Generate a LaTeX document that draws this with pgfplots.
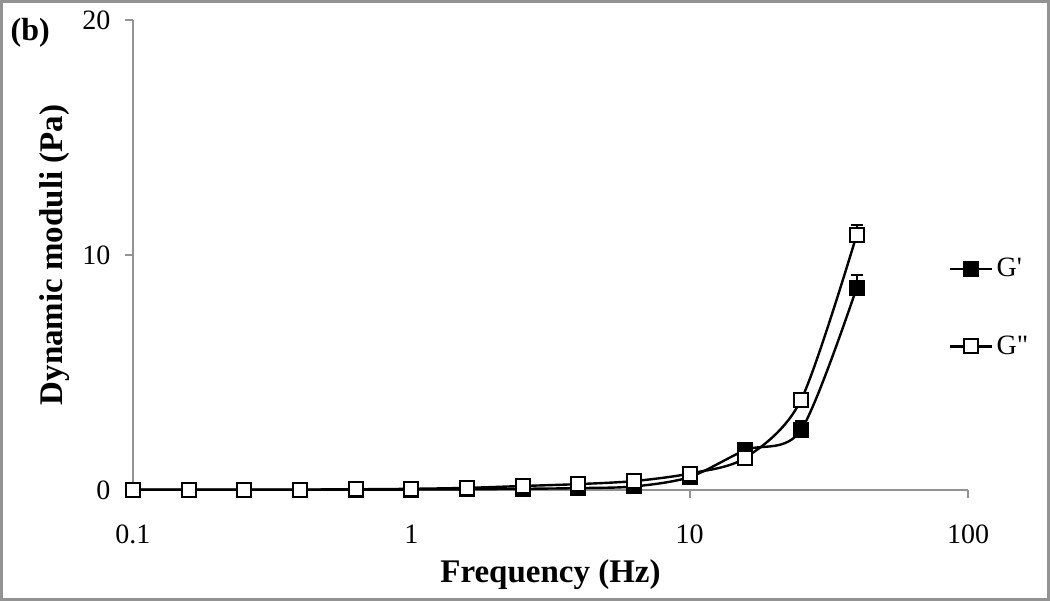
\documentclass[border=0pt]{standalone}
\usepackage{fontspec}
\setmainfont{Liberation Serif}
\usepackage{pgfplots}
\pgfplotsset{compat=1.18}
\usetikzlibrary{calc}

\begin{document}
\begin{tikzpicture}
\begin{axis}[
    scale only axis, width=417.5pt, height=235pt,
    xmode=log, xmin=0.1, xmax=100, ymin=0, ymax=20,
    axis x line=bottom, axis y line=left,
    axis line style={-, draw=gray!85, line width=1pt},
    xtick={0.1,1,10,100}, xticklabels={0.1,1,10,100},
    xminorticks=false,
    ytick={0,10,20},
    tick align=outside, major tick length=4pt,
    tick style={draw=gray!85, line width=1pt},
    tick label style={font=\fontsize{14}{16}\selectfont},
    /pgf/number format/assume math mode=true,
    xticklabel style={yshift=-10pt},
    yticklabel style={xshift=-3.8pt},
    xlabel={\textbf{Frequency (Hz)}},
    ylabel={\textbf{Dynamic moduli (Pa)}},
    label style={font=\fontsize{16.5}{19}\selectfont},
    xlabel style={at={(axis description cs:0.5,-0.181)}, anchor=center},
    ylabel style={at={(axis description cs:-0.0934,0.5)}, anchor=center},
    clip=false,
    legend style={draw=none, fill=none, inner sep=0pt, row sep=24pt,
        at={(rel axis cs:0.977,0.388)}, anchor=west,
        font=\fontsize{14}{16}\selectfont, cells={anchor=west}},
    legend image code/.code={\draw[mark repeat=2,mark phase=2]
        plot coordinates {(0cm,0cm)(0.36cm,0cm)(0.72cm,0cm)};},
]
% error bars (drawn first, markers cover their lower part)
\addplot[forget plot, black, only marks, mark=none,
    error bars/.cd, y dir=plus, y explicit,
    error bar style={line width=1pt},
    error mark options={rotate=90, mark size=3pt, line width=1pt}]
    coordinates {
    (25.12,2.55) +- (0,0.38)
    (39.81,8.6) +- (0,0.55)
    (39.81,10.85) +- (0,0.43)
};
% G'
\addplot[black, line width=1.2pt, smooth, mark=square*,
    mark options={mark size=3.5pt, line width=1pt, fill=black}]
    coordinates {
    (0.1,0.01) (0.1585,0.01) (0.2512,0.01) (0.3981,0.01) (0.631,0.01)
    (1,0.02) (1.585,0.03) (2.512,0.05) (3.981,0.08) (6.31,0.15)
    (10,0.55) (15.85,1.7) (25.12,2.55) (39.81,8.6)
};
\addlegendentry{G\textquotesingle}
% G''
\addplot[black, line width=1.2pt, smooth, mark=square*,
    mark options={mark size=3.5pt, line width=1pt, fill=white}]
    coordinates {
    (0.1,0.02) (0.1585,0.02) (0.2512,0.02) (0.3981,0.02) (0.631,0.03)
    (1,0.05) (1.585,0.09) (2.512,0.17) (3.981,0.25) (6.31,0.38)
    (10,0.7) (15.85,1.37) (25.12,3.83) (39.81,10.85)
};
\addlegendentry{G\textquotedbl}

\node[anchor=west, inner sep=0pt, font=\bfseries\fontsize{16}{19}\selectfont]
    at (axis description cs:-0.147,0.972) {(b)};
\coordinate (O) at (rel axis cs:0,0);
\coordinate (T) at (rel axis cs:1,1);
\end{axis}
\draw[gray!85, line width=1.5pt] ($(O)+(-65.75pt,-54.75pt)$) rectangle ($(T)+(40.25pt,9.25pt)$);
\end{tikzpicture}
\end{document}
